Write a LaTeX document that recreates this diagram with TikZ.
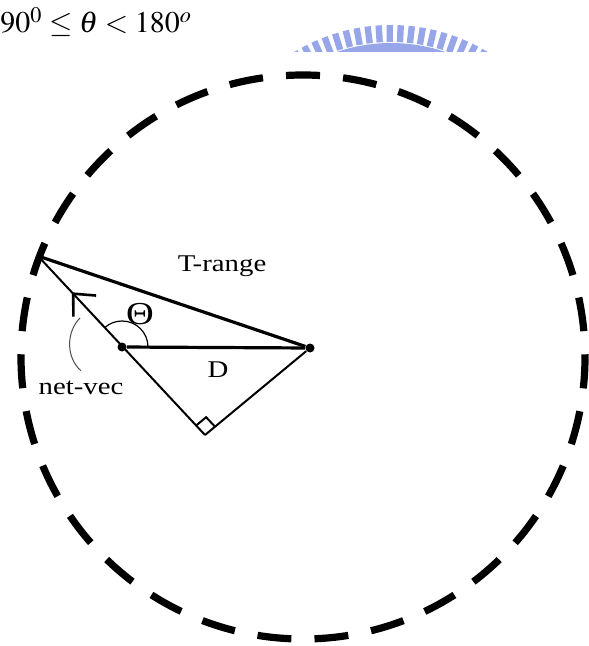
\documentclass[tikz,border=0pt]{standalone}
\usepackage{mathptmx}
\usepackage{fontspec}
\setmainfont{Liberation Serif}
\newfontfamily\labelfont[FakeStretch=1.2]{Liberation Serif}
\usetikzlibrary{arrows.meta,decorations.markings,calc}
\definecolor{wmblue}{RGB}{150,166,232}

\begin{document}
\begin{tikzpicture}[
    x=0.5pt, y=-0.5pt,
    font=\labelfont\fontsize{12}{14}\selectfont,
    ring/.style={
        line width=3.6pt,
        dash pattern=on 17pt off 11.58pt,
        dash phase=1.3pt
    },
    thickline/.style={line width=1.6pt},
    thinline/.style={line width=1pt},
    pnt/.style={circle, fill, inner sep=0pt, minimum size=4.5pt},
    lbl/.style={inner sep=1pt},
    leader/.style={line width=0.5pt, gray!60!black}
]

\useasboundingbox (0,0) rectangle (588,646);

% Condition
\node[anchor=base west, inner sep=0pt, font=\fontsize{15}{18}\selectfont] (cond) at (0,33) {$90^{0} \le \theta < 180^{o}$};

% Watermark
\begin{scope}
\clip (280,0) rectangle (500,52);
\draw[wmblue, line width=5pt] (391,212) ++(-123:164) arc[start angle=-123, end angle=-57, radius=164];
\draw[wmblue, line width=1.5pt] (391,212) ++(-123:153) arc[start angle=-123, end angle=-57, radius=153];
\foreach \a in {-121,-117.6,...,-58}
    \draw[wmblue, line width=3.2pt] (391,212) ++(\a:170) -- ++(\a:17);
\end{scope}

% Range
\coordinate (ctr) at (303,357);
\draw[ring] (ctr) circle[radius=282];

% Points
\node[pnt] (src) at (122,347) {};
\node[pnt] (dst) at (310,348) {};
\coordinate (apex) at (38,256);
\coordinate (foot) at (205,435);

% Triangle
\draw[thickline] (apex) -- (dst);
\draw[thickline] (src) -- (dst);
\draw[thinline, postaction={decorate}, decoration={markings,
    mark=at position 0.8 with {\arrow{Straight Barb[length=8.5pt, width=15.5pt, line width=1.3pt]}}}]
    (foot) -- (apex);
\draw[thinline] (foot) -- (dst);

% Right angle
\coordinate (ra1) at ($(foot)!6.5pt!(apex)$);
\coordinate (ra3) at ($(foot)!6.5pt!(dst)$);
\draw[thinline] (ra1) -- ($(ra1)+(ra3)-(foot)$) -- (ra3);

% Angle
\draw[line width=0.6pt] (src) ++(26,0) arc[start angle=0, end angle=-132, radius=26];

% Labels
\node[lbl] (trange) at (222,266) {T-range};
\node[lbl, font=\labelfont\fontsize{16}{18}\selectfont] (theta) at (140,314) {Θ};
\node[lbl] (dlen) at (218,370) {D};
\node[lbl] (nv) at (81,388) {net-vec};
\coordinate (nvtip) at (80,318);
\draw[leader] ([yshift=4pt]nv.north) .. controls (66,358) and (66,332) .. (nvtip);

\end{tikzpicture}
\end{document}
